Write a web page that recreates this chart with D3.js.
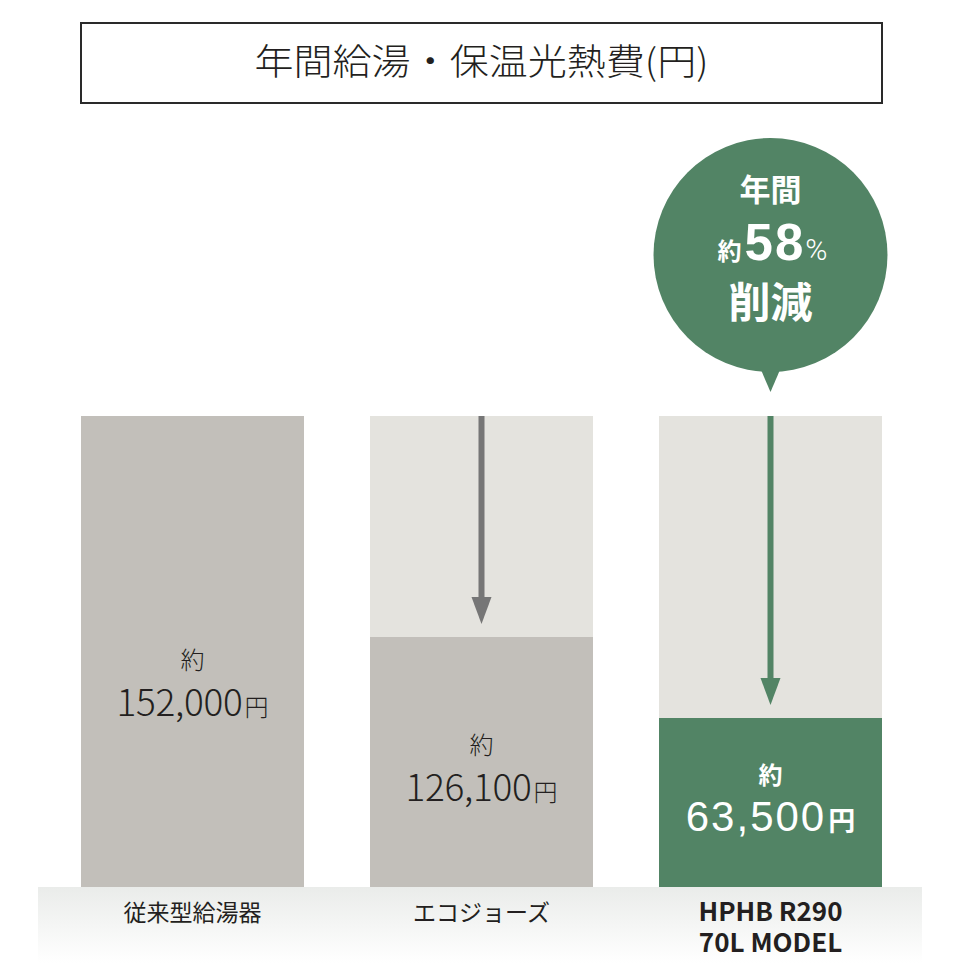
<!DOCTYPE html>
<html><head><meta charset="utf-8">
<script src="https://cdn.jsdelivr.net/npm/d3@7"></script>
<style>
html,body{margin:0;padding:0;background:#fff;}
svg{display:block;}
text{font-family:"Noto Sans CJK JP","Noto Sans",sans-serif;}
</style></head>
<body>
<svg id="chart" width="961" height="979"></svg>
<script>
const title = "年間給湯・保温光熱費(円)";
const categories = ["従来型給湯器", "エコジョーズ", "HPHB R290\n70L MODEL"];
const values = [152000, 126100, 63500];
const valueLabels = ["152,000", "126,100", "63,500"];
const prefixLabel = "約";
const unitLabel = "円";
const badgeLines = ["年間", "約", "58", "%", "削減"];

const svg = d3.select("#chart");
const baseY = 887, topY = 416;

const x = d3.scaleBand().domain(categories).range([81, 882]).paddingInner(66/289).paddingOuter(0);
// illustrative (non-proportional) scale, as in the reference
const y = d3.scaleLinear()
  .domain([0, values[2], values[1], values[0]])
  .range([baseY, 718, 637, topY]);

const colGray = "#c2bfba", colBg = "#e4e3de", colGreen = "#528465", colArrow = "#767676", colText = "#231f20";

// bottom band gradient
const defs = svg.append("defs");
const g = defs.append("linearGradient").attr("id","band").attr("x1",0).attr("x2",0).attr("y1",0).attr("y2",1);
g.append("stop").attr("offset","0%").attr("stop-color","#eaecea");
g.append("stop").attr("offset","100%").attr("stop-color","#ffffff");
svg.append("rect").attr("x",38).attr("y",baseY).attr("width",884).attr("height",76).attr("fill","url(#band)");

// title box
svg.append("rect").attr("x",81).attr("y",23).attr("width",801).attr("height",80)
  .attr("fill","#fff").attr("stroke","#2a2a2a").attr("stroke-width",2);
svg.append("text").attr("x",(81+882)/2).attr("y",75).attr("text-anchor","middle")
  .attr("font-size",36).attr("font-weight",300).attr("fill",colText)
  .attr("textLength",454).attr("lengthAdjust","spacingAndGlyphs").text(title);

// background bars
svg.selectAll("rect.bg").data(values.slice(1)).join("rect").attr("class","bg")
  .attr("x",(d,i)=>x(categories[i+1])).attr("width",x.bandwidth())
  .attr("y",y(values[0])).attr("height",baseY-y(values[0])).attr("fill",colBg);

// value bars
svg.selectAll("rect.bar").data(values).join("rect").attr("class","bar")
  .attr("x",(d,i)=>x(categories[i])).attr("width",x.bandwidth())
  .attr("y",d=>y(d)).attr("height",d=>baseY-y(d))
  .attr("fill",(d,i)=>i===2?colGreen:colGray);

// arrows
values.slice(1).forEach((v,j)=>{
  const i=j+1;
  const cx = x(categories[i]) + x.bandwidth()/2;
  const col = i===2?colGreen:colArrow;
  const y0 = y(values[0]), y1 = y(v)-13;
  svg.append("line").attr("x1",cx).attr("x2",cx).attr("y1",y0).attr("y2",y1-20)
    .attr("stroke",col).attr("stroke-width",6);
  svg.append("path").attr("d",`M${cx-10},${y1-27}L${cx+10},${y1-27}L${cx},${y1}Z`).attr("fill",col);
});

// value labels
const labelCenters = [660, 745, 775];
values.forEach((v,i)=>{
  const cx = x(categories[i]) + x.bandwidth()/2;
  const green = i===2;
  const fill = green ? "#fff" : colText;
  const yc = labelCenters[i];
  svg.append("text").attr("x",cx).attr("y",yc+9).attr("text-anchor","middle")
    .attr("font-size",24).attr("font-weight",green?700:300).attr("fill",fill).text(prefixLabel);
  const t = svg.append("text").attr("x",cx).attr("y",yc+56).attr("text-anchor","middle").attr("fill",fill);
  if (green) {
    t.append("tspan").attr("font-family","'Liberation Sans', Arial, sans-serif")
      .attr("font-size",42).attr("font-weight",400).attr("letter-spacing",2).text(valueLabels[i]);
  } else {
    t.append("tspan").attr("font-size",37).attr("font-weight",300).attr("letter-spacing",-0.3).text(valueLabels[i]);
  }
  t.append("tspan").attr("font-size",green?27:24).attr("font-weight",green?700:300).attr("dx",2).text(unitLabel);
});

// category labels (multi-line labels as one text with tspans)
categories.forEach((c,i)=>{
  const cx = x(c) + x.bandwidth()/2;
  const lines = c.split("\n");
  const latin = i===2;
  const t = svg.append("text").attr("x",cx).attr("y",latin ? 921 : 921).attr("text-anchor","middle")
    .attr("font-family", latin ? "Roboto, sans-serif" : null)
    .attr("font-size",latin?26:23).attr("font-weight",latin?700:400)
    .attr("fill",colText);
  lines.forEach((ln,k)=>{
    t.append("tspan").attr("x",cx).attr("dy",k===0?0:31).text(ln);
  });
});

// badge
const bx = x(categories[2]) + x.bandwidth()/2, by = 255, br = 117;
svg.append("path").attr("d",`M${bx-12},${by+br-8}L${bx+12},${by+br-8}L${bx},${392}Z`).attr("fill",colGreen);
svg.append("circle").attr("cx",bx).attr("cy",by).attr("r",br).attr("fill",colGreen);
svg.append("text").attr("x",bx).attr("y",201).attr("text-anchor","middle").attr("fill","#fff")
  .attr("font-size",31).attr("font-weight",700).text(badgeLines[0]);
const t2 = svg.append("text").attr("x",bx+2).attr("y",260).attr("text-anchor","middle").attr("fill","#fff");
t2.append("tspan").attr("font-size",24).attr("font-weight",700).text(badgeLines[1]);
t2.append("tspan").attr("font-size",51).attr("font-weight",700).attr("dx",3).attr("letter-spacing",2)
  .attr("font-family","'Liberation Sans', Arial, sans-serif").text(badgeLines[2]);
t2.append("tspan").attr("font-size",30).attr("font-weight",300).attr("font-family","Roboto, sans-serif").text(badgeLines[3]);
svg.append("text").attr("x",bx).attr("y",318).attr("text-anchor","middle").attr("fill","#fff")
  .attr("font-size",42).attr("font-weight",700).text(badgeLines[4]);
</script>
</body></html>
